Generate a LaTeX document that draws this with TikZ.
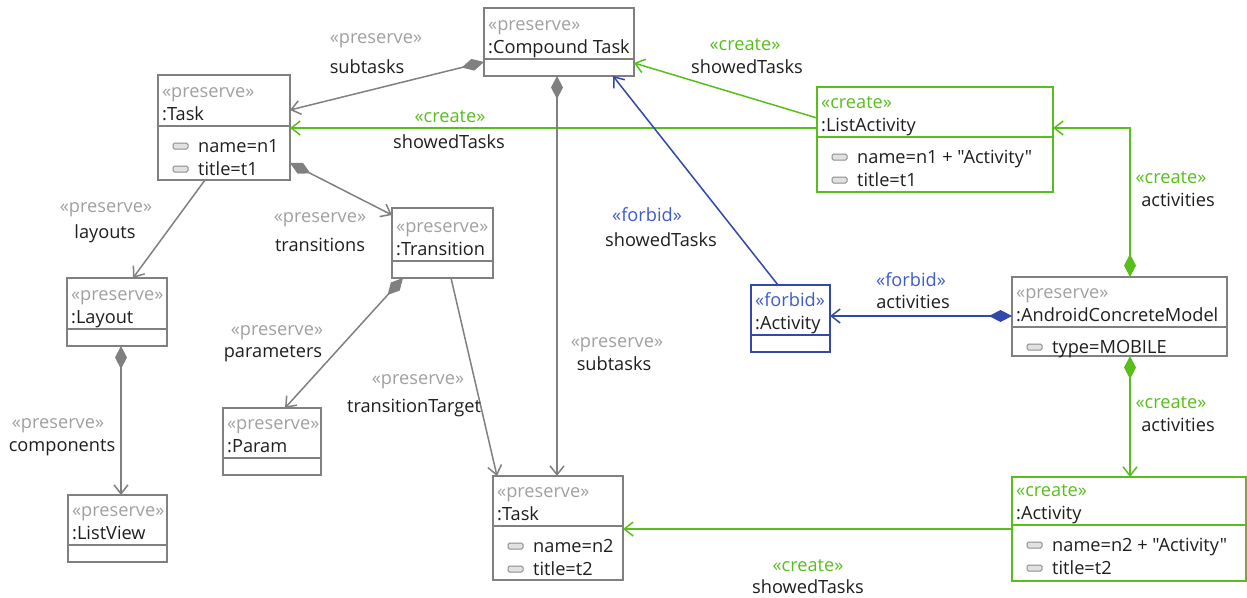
\documentclass[tikz,border=0pt]{standalone}
\usepackage{fontspec}
\setmainfont{Open Sans}[Ligatures=TeXOff]
\usetikzlibrary{arrows.meta}
\definecolor{umlgray}{RGB}{128,128,128}
\definecolor{stgray}{RGB}{160,160,160}
\definecolor{umlgreen}{RGB}{88,190,28}
\definecolor{umlblue}{RGB}{50,72,170}
\definecolor{stblue}{RGB}{60,92,200}
\definecolor{icfill}{RGB}{225,225,225}
\definecolor{icline}{RGB}{140,140,140}
\definecolor{txt}{RGB}{30,30,30}

\tikzset{
  every node/.style={font=\fontsize{18.2}{22}\selectfont, inner sep=0pt, text=txt},
  txtl/.style={anchor=base west},
  lab/.style={anchor=base},
  conn/.style={line width=1.5pt},
  openhead/.style={-{Straight Barb[length=9pt,width=14pt,line width=1.5pt]}},
  gassoc/.style={conn, draw=umlgreen, openhead},
  gcomp/.style={conn, draw=umlgray, {Diamond[length=23pt,width=12pt,fill=umlgray]}-{Straight Barb[length=9pt,width=14pt,line width=1.5pt]}},
  grcomp/.style={conn, draw=umlgreen, {Diamond[length=23pt,width=12pt,fill=umlgreen]}-{Straight Barb[length=9pt,width=14pt,line width=1.5pt]}},
  blcomp/.style={conn, draw=umlblue, {Diamond[length=23pt,width=12pt,fill=umlblue]}-{Straight Barb[length=9pt,width=14pt,line width=1.5pt]}},
  bassoc/.style={conn, draw=umlblue, openhead},
  gassocg/.style={conn, draw=umlgray, openhead},
  icon/.style={draw=icline, fill=icfill, line width=1pt, rounded corners=1.5pt},
}

% name,left,top,right,bottom,divider,colour,stereo colour,stereo
\newcommand\umlcls[9]{%
  \node[draw=#7, line width=1.6pt, outer sep=0pt, minimum width={(#4-#2)*1pt}, minimum height={(#5-#3)*1pt}] (#1) at ({(#2+#4)/2},{(#3+#5)/2}) {};
  \draw[draw=#7, line width=1.6pt] ({#2},{#6}) -- ({#4},{#6});
  \node[txtl, text=#8] (#1-st) at ({#2+4},{#6-29}) {#9};
}
% name,left,divider,title
\newcommand\umltitle[4]{\node[txtl] (#1-ti) at ({#2+4},{#3-6}) {#4};}
% name,index,left,baseline,text
\newcommand\umlattr[5]{%
  \draw[icon] ({#3+15},{#4-9}) rectangle ({#3+30},{#4-3});
  \node[txtl] (#1-a#2) at ({#3+40},{#4}) {#5};
}

\begin{document}
\begin{tikzpicture}[x=1pt,y=-1pt]
\useasboundingbox (0,0) rectangle (1247,597);

% classes
\umlcls{ct}{484}{8}{634}{76}{59}{umlgray}{stgray}{«preserve»}
\umltitle{ct}{484}{59}{:Compound Task}

\umlcls{ta}{158}{75}{290}{180}{126}{umlgray}{stgray}{«preserve»}
\umltitle{ta}{158}{126}{:Task}
\umlattr{ta}{1}{158}{152}{name=n1}
\umlattr{ta}{2}{158}{175}{title=t1}

\umlcls{la}{817}{87}{1053}{192}{137}{umlgreen}{umlgreen}{«create»}
\umltitle{la}{817}{137}{:ListActivity}
\umlattr{la}{1}{817}{163}{name=n1 + "Activity"}
\umlattr{la}{2}{817}{186}{title=t1}

\umlcls{tr}{392}{208}{493}{278}{261}{umlgray}{stgray}{«preserve»}
\umltitle{tr}{392}{261}{:Transition}

\umlcls{lay}{67}{278}{167}{346}{329}{umlgray}{stgray}{«preserve»}
\umltitle{lay}{67}{329}{:Layout}

\umlcls{pa}{223}{408}{321}{475}{458}{umlgray}{stgray}{«preserve»}
\umltitle{pa}{223}{458}{:Param}

\umlcls{lv}{68}{495}{167}{562}{545}{umlgray}{stgray}{«preserve»}
\umltitle{lv}{68}{545}{:ListView}

\umlcls{tb}{493}{476}{623}{580}{526}{umlgray}{stgray}{«preserve»}
\umltitle{tb}{493}{526}{:Task}
\umlattr{tb}{1}{493}{552}{name=n2}
\umlattr{tb}{2}{493}{575}{title=t2}

\umlcls{af}{751}{285}{830}{352}{335}{umlblue}{stblue}{«forbid»}
\umltitle{af}{751}{335}{:Activity}

\umlcls{acm}{1012}{277}{1227}{356}{327}{umlgray}{stgray}{«preserve»}
\umltitle{acm}{1012}{327}{:AndroidConcreteModel}
\umlattr{acm}{1}{1012}{353}{type=MOBILE}

\umlcls{ac}{1012}{477}{1246}{581}{525}{umlgreen}{umlgreen}{«create»}
\umltitle{ac}{1012}{525}{:Activity}
\umlattr{ac}{1}{1012}{551}{name=n2 + "Activity"}
\umlattr{ac}{2}{1012}{574}{title=t2}

% connectors
\draw[gcomp] ([yshift=-54pt]ct.north west) -- ([yshift=-35pt]ta.north east);
\draw[gassoc] ([yshift=-31pt]la.north west) -- ([yshift=-55pt]ct.north east);
\draw[gassoc] ([yshift=-41pt]la.north west) -- ([yshift=-53pt]ta.north east);
\draw[gcomp] ([yshift=-88pt]ta.north east) -- ([yshift=-7pt]tr.north west);
\draw[gassocg] ([xshift=47pt]ta.south west) -- ([xshift=66pt]lay.north west);
\draw[gcomp] ([xshift=11pt]tr.south west) -- ([xshift=62pt]pa.north west);
\draw[gassocg] ([xshift=59pt]tr.south west) -- ([xshift=4pt]tb.north west);
\draw[gcomp] ([xshift=73pt]ct.south west) -- ([xshift=64pt]tb.north west);
\draw[gcomp] ([xshift=54pt]lay.south west) -- ([xshift=53pt]lv.north west);
\draw[bassoc] ([xshift=27pt]af.north west) -- ([xshift=-21pt]ct.south east);
\draw[blcomp] ([yshift=-39pt]acm.north west) -- ([yshift=-31pt]af.north east);
\draw[grcomp] ([xshift=118pt]acm.north west) |- ([yshift=-41pt]la.north east);
\draw[grcomp] ([xshift=118pt]acm.south west) -- ([xshift=118pt]ac.north west);
\draw[gassoc] ([yshift=-52pt]ac.north west) -- ([yshift=-53pt]tb.north east);

% labels
\node[lab, text=stgray] (l1s) at (376,43) {«preserve»};
\node[lab] (l1n) at (367,73) {subtasks};
\node[lab, text=umlgreen] (l2s) at (745,50) {«create»};
\node[lab] (l2n) at (747,73) {showedTasks};
\node[lab, text=umlgreen] (l3s) at (450,122) {«create»};
\node[lab] (l3n) at (449,148) {showedTasks};
\node[lab, text=stgray] (l4s) at (320,222) {«preserve»};
\node[lab] (l4n) at (320,251) {transitions};
\node[lab, text=stgray] (l5s) at (106,212) {«preserve»};
\node[lab] (l5n) at (105,238) {layouts};
\node[lab, text=stgray] (l6s) at (277,335) {«preserve»};
\node[lab] (l6n) at (273,357) {parameters};
\node[lab, text=stgray] (l7s) at (418,384) {«preserve»};
\node[lab] (l7n) at (414,412) {transitionTarget};
\node[lab, text=stgray] (l8s) at (617,347) {«preserve»};
\node[lab] (l8n) at (614,370) {subtasks};
\node[lab, text=stgray] (l9s) at (58,428) {«preserve»};
\node[lab] (l9n) at (62,451) {components};
\node[lab, text=stblue] (l10s) at (647,221) {«forbid»};
\node[lab] (l10n) at (661,246) {showedTasks};
\node[lab, text=stblue] (l11s) at (911,286) {«forbid»};
\node[lab] (l11n) at (913,308) {activities};
\node[lab, text=umlgreen] (l12s) at (1171,183) {«create»};
\node[lab] (l12n) at (1178,206) {activities};
\node[lab, text=umlgreen] (l13s) at (1171,408) {«create»};
\node[lab] (l13n) at (1178,431) {activities};
\node[lab, text=umlgreen] (l14s) at (808,571) {«create»};
\node[lab] (l14n) at (808,593) {showedTasks};
\end{tikzpicture}
\end{document}
